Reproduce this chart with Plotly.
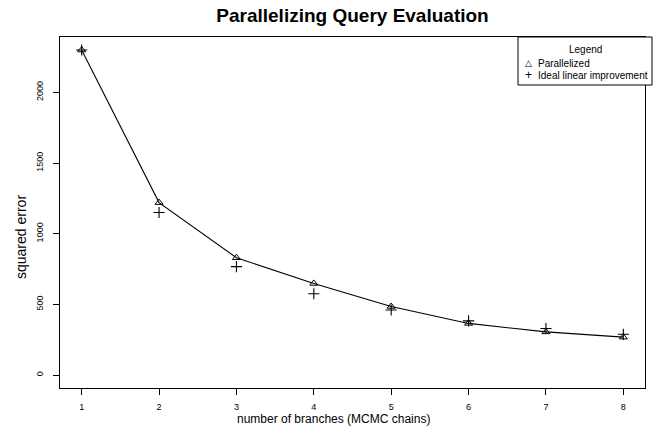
import plotly.graph_objects as go

branches = [1, 2, 3, 4, 5, 6, 7, 8]
parallelized = [2300, 1220, 830, 648, 485, 365, 305, 268]
ideal = [2300, 1150, 767, 575, 460, 383, 329, 288]
y_ticks = [0, 500, 1000, 1500, 2000]
legend_title = "Legend"
legend_labels = ["Parallelized", "Ideal linear improvement"]
legend_symbols = ["\u25b3", "+"]

font = "Arial"
W, H = 656, 438
L, R, T, B = 60, 11, 37, 50
pw, ph = W - L - R, H - T - B


def px_x(px):
    return (px - L) / pw


def px_y(py):
    return 1 - (py - T) / ph


fig = go.Figure()
fig.add_trace(go.Scatter(
    x=branches, y=parallelized, mode="lines+markers", name="Parallelized",
    line=dict(color="black", width=1.1),
    marker=dict(symbol="triangle-up-open", size=7, color="black", line=dict(width=1)),
    showlegend=False,
))
fig.add_trace(go.Scatter(
    x=branches, y=ideal, mode="markers", name="Ideal linear improvement",
    marker=dict(symbol="cross-thin-open", size=8, color="black", line=dict(width=1.1, color="black")),
    showlegend=False,
))

# legend box (drawn manually, R style)
box_l, box_r, box_t, box_b = 518, 652, 37, 85
fig.add_shape(type="rect", xref="paper", yref="paper",
              x0=px_x(box_l), x1=px_x(box_r), y0=px_y(box_b), y1=px_y(box_t),
              line=dict(color="black", width=1), fillcolor="white", layer="above")
annotations = [dict(text=legend_title, xref="paper", yref="paper",
                    x=px_x((box_l + box_r) / 2), y=px_y(49), xanchor="center", yanchor="middle",
                    showarrow=False, font=dict(size=10, family=font, color="black"))]
for i, (lab, sym) in enumerate(zip(legend_labels, legend_symbols)):
    yy = 63 + i * 12
    annotations.append(dict(text=sym, xref="paper", yref="paper", x=px_x(528), y=px_y(yy),
                            xanchor="center", yanchor="middle", showarrow=False,
                            font=dict(size=9 if i == 0 else 12, family=font, color="black")))
    annotations.append(dict(text=lab, xref="paper", yref="paper", x=px_x(536), y=px_y(yy),
                            xanchor="left", yanchor="middle", showarrow=False,
                            font=dict(size=10, family=font, color="black")))

# axis titles (placed as in the reference)
annotations.append(dict(text="number of branches (MCMC chains)", xref="paper", yref="paper",
                        x=px_x(333), y=px_y(419), xanchor="center", yanchor="middle",
                        showarrow=False, font=dict(size=12, family=font, color="black")))
annotations.append(dict(text="squared error", xref="paper", yref="paper", textangle=-90,
                        x=px_x(21), y=px_y(237), xanchor="center", yanchor="middle",
                        showarrow=False, font=dict(size=14, family=font, color="black")))

fig.update_layout(
    width=W, height=H,
    margin=dict(l=L, r=R, t=T, b=B, autoexpand=False),
    paper_bgcolor="white", plot_bgcolor="white",
    font=dict(family=font, color="black"),
    title=dict(text="<b>Parallelizing Query Evaluation</b>", x=(L + pw / 2) / W, xanchor="center",
               y=1 - 15 / H, yanchor="middle", font=dict(size=19, color="black")),
    showlegend=False,
    annotations=annotations,
    xaxis=dict(
        range=[0.72, 8.28], tickvals=branches, ticktext=[str(b) for b in branches],
        showgrid=False, zeroline=False, showline=True, linecolor="black", linewidth=1,
        mirror=True, ticks="outside", ticklen=6, tickcolor="black", automargin=False,
        tickfont=dict(size=9, color="black"), ticklabelstandoff=4,
    ),
    yaxis=dict(
        range=[-92, 2392], tickvals=y_ticks, ticktext=[str(v) for v in y_ticks],
        showgrid=False, zeroline=False, showline=True, linecolor="black", linewidth=1,
        mirror=True, ticks="outside", ticklen=6, tickcolor="black", automargin=False,
        tickangle=-90, tickfont=dict(size=9, color="black"), ticklabelstandoff=6,
    ),
)

fig.write_html("out.html", config={"displayModeBar": False},
               post_script="document.body.style.margin='0';")
